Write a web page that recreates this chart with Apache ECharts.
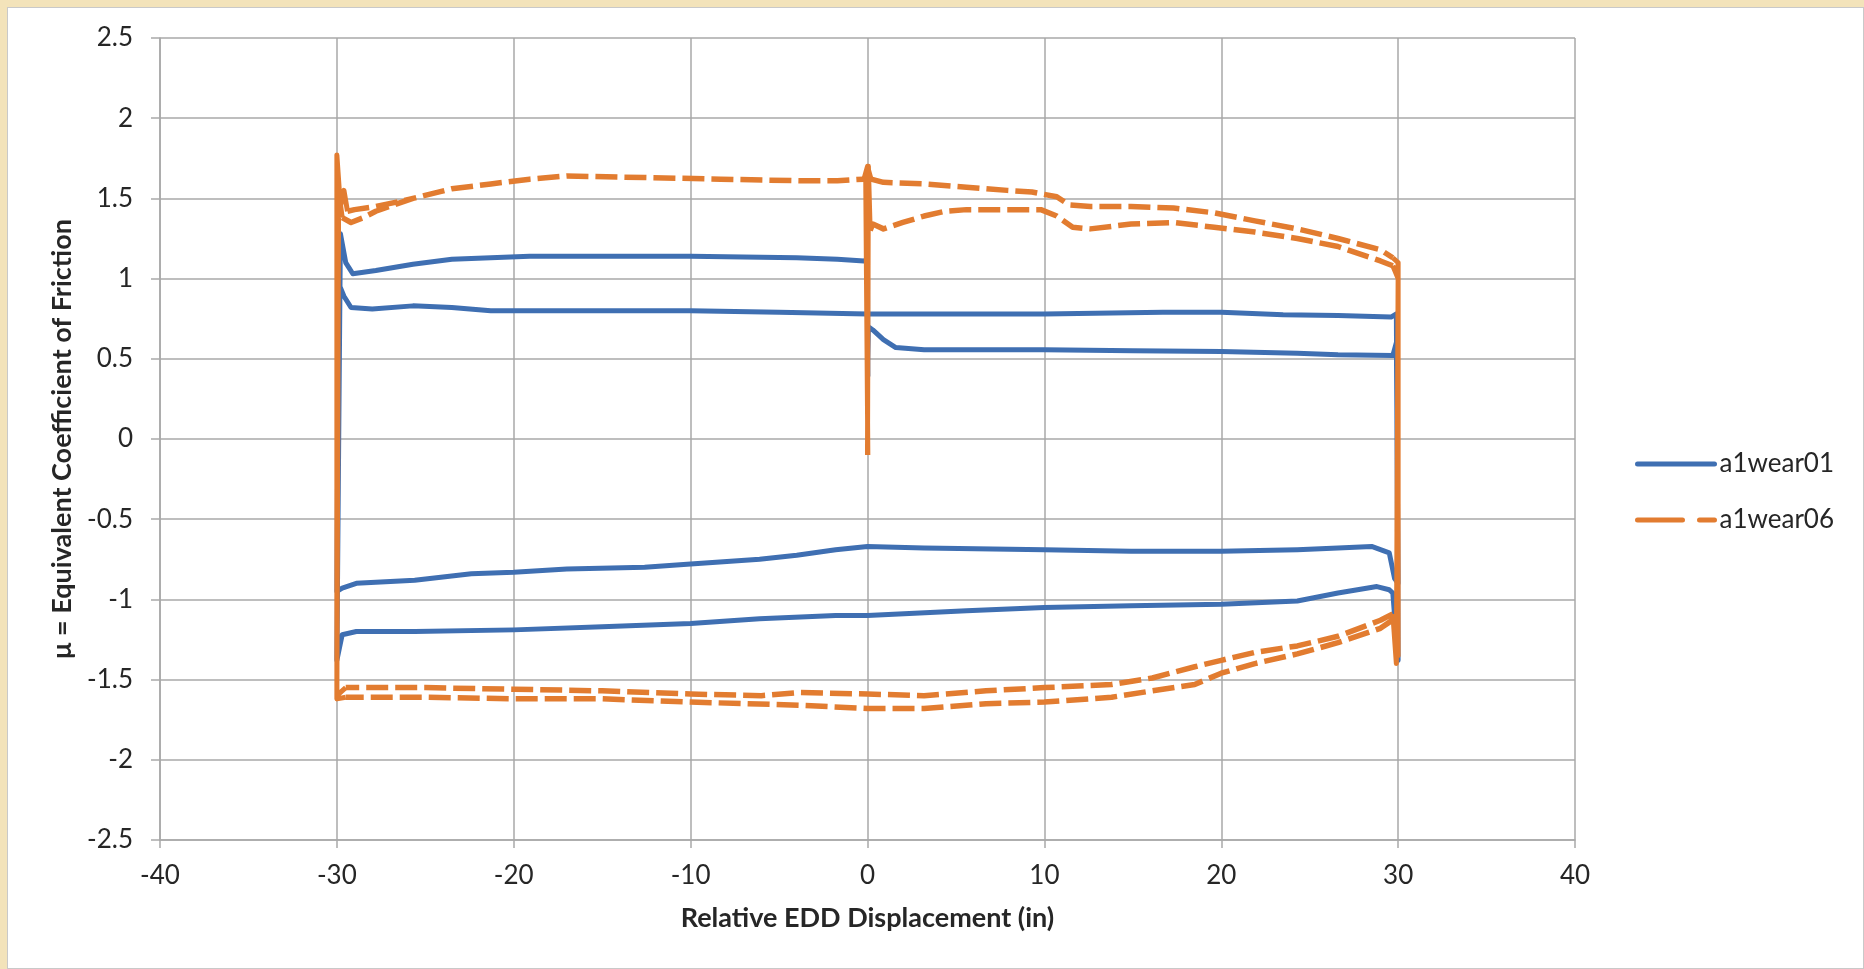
<!DOCTYPE html>
<html>
<head>
<meta charset="utf-8">
<script src="https://cdn.jsdelivr.net/npm/echarts@6/dist/echarts.min.js"></script>
<style>
  html, body { margin: 0; padding: 0; background: #f3e3ba; }
  #frame {
    position: absolute; left: 7px; top: 7px; width: 1857px; height: 962px;
    box-sizing: border-box; background: #ffffff; border: 1px solid #c9c9c9;
  }
  #chart { position: absolute; left: 0; top: 0; width: 1864px; height: 969px; }
</style>
</head>
<body>
<div id="frame"></div>
<div id="chart"></div>
<script>
// 坐标轴刻度
var xTicks = { min: -40, max: 40, step: 10 };
var yTicks = { min: -2.5, max: 2.5, step: 0.5 };
var seriesNames = ['a1wear01', 'a1wear06'];

// a1wear01 各段 [位移, 摩擦系数]
var blueStartRun = [
  [0.0, 0.39], [0.05, 0.70], [0.3, 0.68], [0.9, 0.62], [1.6, 0.57], [3.2, 0.556],
  [10, 0.556], [15, 0.55], [20, 0.545], [24.3, 0.535], [26.6, 0.525], [29.7, 0.52]
];
var blueReturnA = [
  [29.9, 0.60], [30.0, -0.90], [29.8, -0.87], [29.5, -0.71], [28.5, -0.67], [26.6, -0.68],
  [24.3, -0.69], [20, -0.70], [14.9, -0.70], [10, -0.69], [3.2, -0.68], [0, -0.67],
  [-1.8, -0.69], [-4, -0.725], [-6.1, -0.75], [-10, -0.78], [-12.6, -0.80], [-17, -0.81],
  [-20, -0.83], [-22.4, -0.84], [-25.6, -0.88], [-28.9, -0.90], [-29.7, -0.93]
];
var blueForwardB = [
  [-30.0, -0.95], [-29.9, 0.97], [-29.6, 0.89], [-29.2, 0.82], [-28, 0.81], [-25.7, 0.83],
  [-23.5, 0.82], [-21.3, 0.80], [-15, 0.80], [-10, 0.80], [-5, 0.79], [0, 0.78],
  [3.2, 0.78], [10, 0.78], [16.7, 0.79], [20, 0.79], [23.5, 0.775], [26.6, 0.77], [29.6, 0.76]
];
var blueReturnB = [
  [29.9, 0.78], [30.0, -1.38], [29.7, -0.96], [29.5, -0.94], [28.8, -0.92], [26.6, -0.96],
  [24.3, -1.01], [20, -1.03], [14.9, -1.04], [10, -1.05], [5.6, -1.07], [0, -1.10],
  [-1.8, -1.10], [-6.1, -1.12], [-10, -1.15], [-15, -1.17], [-20, -1.19], [-25.6, -1.20],
  [-28.9, -1.20], [-29.7, -1.22]
];
var blueForwardC = [
  [-30.0, -1.38], [-29.8, 1.28], [-29.5, 1.10], [-29.1, 1.03], [-27.8, 1.05], [-25.7, 1.09],
  [-23.5, 1.12], [-21.3, 1.13], [-19.1, 1.14], [-10, 1.14], [-4, 1.13], [-1.7, 1.12],
  [-0.2, 1.11], [0.0, 1.12], [0.02, 0.39]
];

// a1wear06 滑动段（虚线）
var orangeStartRun = [
  [0.15, 1.30], [0.3, 1.34], [0.9, 1.31], [2, 1.35], [3.2, 1.39],
  [4.4, 1.42], [5.6, 1.43], [7.9, 1.43], [9.8, 1.43], [10.7, 1.39], [11.6, 1.32], [12.6, 1.31],
  [14.9, 1.34], [17.3, 1.35], [19.6, 1.32], [21.9, 1.29], [24.3, 1.25], [26.6, 1.20],
  [29, 1.11], [29.7, 1.08]
];
var orangeReturnA = [
  [29.7, -1.09], [29, -1.13], [26.6, -1.23], [24.3, -1.29],
  [21.9, -1.33], [20, -1.38], [18.5, -1.42], [16.1, -1.49], [13.8, -1.53], [10, -1.55],
  [6.7, -1.57], [3.2, -1.60], [0, -1.59], [-3.8, -1.58], [-6, -1.60], [-10, -1.59],
  [-15, -1.57], [-20, -1.56], [-25, -1.55], [-29.5, -1.55]
];
var orangeForwardB = [
  [-29.7, 1.38], [-29.2, 1.35], [-28.5, 1.38], [-27.8, 1.42],
  [-25.7, 1.50], [-23.5, 1.56], [-21.3, 1.59], [-19.1, 1.62], [-17, 1.64], [-12.6, 1.63],
  [-8.3, 1.62], [-3.9, 1.61], [-1.7, 1.61], [-0.2, 1.62]
];
var orangeForwardB2 = [
  [0.2, 1.62], [0.9, 1.60], [3.2, 1.59], [5.6, 1.57], [7.9, 1.55], [9.3, 1.54], [10.7, 1.51],
  [11.4, 1.46], [12.6, 1.45], [14.9, 1.45], [17.3, 1.44], [19.6, 1.41], [21.9, 1.36],
  [24.3, 1.31], [26.6, 1.25], [29, 1.18], [29.7, 1.13]
];
var orangeReturnB = [
  [29.8, -1.12], [29, -1.18], [26.6, -1.27], [24.3, -1.34],
  [21.9, -1.40], [20, -1.46], [18.5, -1.53], [16.1, -1.57], [13.8, -1.61], [10, -1.64],
  [6.7, -1.65], [3.2, -1.68], [0, -1.68], [-3.8, -1.66], [-10, -1.64], [-15, -1.62],
  [-20, -1.62], [-25, -1.61], [-29.5, -1.61]
];
// 最后一段与 B 段在 -25 之后重合，只画到汇合处
var orangeForwardC = [
  [-29.4, 1.42], [-29, 1.43], [-27.8, 1.45], [-26.5, 1.48], [-25.7, 1.50]
];

// a1wear06 换向段（实线）
var orangeTurnStart = [[0.0, -0.10], [0.05, 1.70], [0.15, 1.30]];
var orangeTurnRight1 = [[29.7, 1.08], [30.0, 1.0], [29.9, -1.40], [29.7, -1.09]];
var orangeTurnLeft1 = [[-29.5, -1.55], [-30.0, -1.60], [-29.9, 1.55], [-29.7, 1.38]];
var orangeTurnMid = [[-0.2, 1.62], [0.0, 1.70], [0.2, 1.62]];
var orangeTurnRight2 = [[29.7, 1.13], [30.0, 1.10], [30.0, -1.35], [29.8, -1.12]];
var orangeTurnLeft2 = [[-29.5, -1.61], [-30.0, -1.62], [-30.0, 1.77], [-29.8, 1.45], [-29.6, 1.55], [-29.4, 1.42]];
var orangeTurnEnd = [[-0.1, 1.62], [0.0, 1.62], [0.02, -0.10]];

function joinRuns(runs) {
  var out = [];
  runs.forEach(function (r, i) {
    if (i > 0) out.push(null);
    out = out.concat(r);
  });
  return out;
}

var blueData = [].concat(blueStartRun, blueReturnA, blueForwardB, blueReturnB, blueForwardC);
var orangeRunData = joinRuns([orangeStartRun, orangeReturnA, orangeForwardB, orangeForwardB2, orangeReturnB, orangeForwardC]);
var orangeTurnData = joinRuns([orangeTurnStart, orangeTurnRight1, orangeTurnLeft1, orangeTurnMid, orangeTurnRight2, orangeTurnLeft2, orangeTurnEnd]);

var font = 'Lato, "Open Sans", sans-serif';
var gridColor = '#a9a9a9';
var textColor = '#262626';
var blue = '#3f6fb2';
var orange = '#e27c30';

var chart = echarts.init(document.getElementById('chart'));
var option = {
  animation: false,
  backgroundColor: 'transparent',
  textStyle: { fontFamily: font },
  grid: { left: 160, top: 38, right: 289, bottom: 129, containLabel: false },
  legend: {
    orient: 'vertical',
    left: 1635,
    top: 451,
    padding: 0,
    itemWidth: 77,
    itemHeight: 24,
    itemGap: 30,
    itemStyle: { opacity: 0 },
    textStyle: { fontSize: 26, color: textColor, fontFamily: font },
    data: [
      { name: seriesNames[0], lineStyle: { width: 5, cap: 'round' } },
      { name: seriesNames[1], lineStyle: { width: 5, cap: 'round', type: [45, 17] } }
    ]
  },
  xAxis: {
    type: 'value',
    min: xTicks.min,
    max: xTicks.max,
    interval: xTicks.step,
    name: 'Relative EDD Displacement (in)',
    nameLocation: 'middle',
    nameGap: 65,
    nameTextStyle: { fontSize: 27, fontWeight: 'bold', color: textColor, fontFamily: font },
    axisLine: { show: true, onZero: false, lineStyle: { color: gridColor, width: 1.5 } },
    axisTick: { show: true, length: 8, lineStyle: { color: gridColor, width: 1.5 } },
    axisLabel: { fontSize: 26, color: textColor, margin: 23, fontFamily: font },
    splitLine: { show: true, lineStyle: { color: gridColor, width: 1.5 } }
  },
  yAxis: {
    type: 'value',
    min: yTicks.min,
    max: yTicks.max,
    interval: yTicks.step,
    name: 'μ = Equivalent Coefficient of Friction',
    nameLocation: 'middle',
    nameGap: 80,
    nameTextStyle: { fontSize: 27, fontWeight: 'bold', color: textColor, fontFamily: font },
    axisLine: { show: true, onZero: false, lineStyle: { color: gridColor, width: 1.5 } },
    axisTick: { show: true, length: 9, lineStyle: { color: gridColor, width: 1.5 } },
    axisLabel: { fontSize: 26, color: textColor, margin: 27, fontFamily: font },
    splitLine: { show: true, lineStyle: { color: gridColor, width: 1.5 } }
  },
  series: [
    {
      name: seriesNames[0],
      type: 'line',
      data: blueData,
      symbol: 'none',
      lineStyle: { color: blue, width: 5, join: 'round' },
      itemStyle: { color: blue }
    },
    {
      name: seriesNames[1],
      type: 'line',
      data: orangeRunData,
      symbol: 'none',
      connectNulls: false,
      lineStyle: { color: orange, width: 5.5, type: [22, 7], join: 'round' },
      itemStyle: { color: orange }
    },
    {
      name: seriesNames[1],
      type: 'line',
      data: orangeTurnData,
      symbol: 'none',
      connectNulls: false,
      lineStyle: { color: orange, width: 5, join: 'round' },
      itemStyle: { color: orange }
    }
  ]
};
chart.setOption(option);
</script>
</body>
</html>
